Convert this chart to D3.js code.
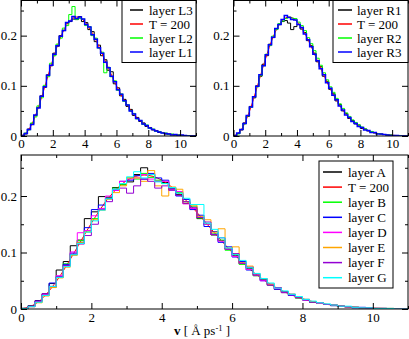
<!DOCTYPE html>
<html>
<head>
<meta charset="utf-8">
<script src="https://cdn.jsdelivr.net/npm/d3@7"></script>
<style>
  body { margin: 0; background: #fff; }
  text { font-family: "Liberation Serif", "Times New Roman", serif; fill: #000; }
</style>
</head>
<body>
<div id="chart"></div>
<script>
// histogram bins: width 0.2 Å/ps starting at 0, values in per mille (probability density x 1000)
const binWidth = 0.2;

// top left panel
const layerL3 = [1,4,14,24,41,57,80,97,122,140, 165,179,200,210,225,228,233,232,238,228, 226,212,208,188,181,160,152,131,128,104, 96,80,73,59,53,41,37,29,26,19, 17,12,11,7,7,4,4,3,2,2, 1,1,0,0,0];
const layerL2 = [1,6,12,26,38,60,76,101,118,145, 160,183,195,215,220,242,258,232,234,233, 220,218,200,195,175,167,126,137,118,110, 91,84,69,62,50,45,34,31,23,22, 15,14,9,9,6,6,3,4,2,2, 1,1,1,0,0];
const layerL1 = [1,5,13,23,42,56,79,98,121,141, 163,180,199,210,226,229,238,234,237,233, 222,217,202,193,176,165,147,136,119,108, 92,83,70,62,50,44,35,31,24,21, 16,13,10,8,6,5,4,2,3,1, 2,1,0,0,0];

// top right panel
const layerR1 = [1,5,12,26,39,59,76,100,119,143, 160,183,196,213,222,228,230,225,212,218, 222,213,206,190,180,165,148,138,119,109, 93,84,70,63,50,45,35,31,24,22, 15,14,10,9,6,5,4,3,2,2, 1,1,0,0,0];
const layerR2 = [1,4,13,24,40,57,78,98,120,140, 163,180,199,212,224,229,234,237,235,234, 227,220,210,196,184,170,155,141,126,112, 98,87,75,64,55,46,39,32,27,22, 18,14,11,9,7,5,4,3,2,2, 1,1,1,0,0];
const layerR3 = [1,6,13,25,41,58,78,99,122,140, 162,182,197,214,222,232,240,236,232,231, 222,216,203,192,178,163,150,134,122,106, 95,81,72,60,52,42,37,29,25,19, 17,12,11,7,7,4,4,3,2,1, 1,1,0,0,0];

// bottom panel
const layerA = [1,6,15,27,45,69,84,112,122,160, 172,199,198,215,220,225,238,250,238,226, 224,212,203,187,178,160,150,131,121,106, 95,80,72,59,51,43,35,30,24,20, 16,12,10,8,6,5,4,3,2,2, 1,1,0,0,0];
const layerB = [1,5,12,25,38,56,80,96,121,138, 160,178,196,214,220,232,230,240,233,228, 222,213,206,190,182,161,150,133,122,104, 97,79,73,59,52,42,37,29,26,19, 17,12,10,8,7,5,4,3,2,2, 1,1,1,0,0];
const layerC = [1,5,14,24,46,57,79,99,118,144, 176,184,196,210,226,228,236,230,240,232, 228,214,200,194,176,166,146,137,118,110, 92,84,69,62,50,44,35,31,24,21, 16,13,10,8,6,5,4,2,3,1, 1,1,0,0,0];
const layerD = [1,4,13,26,39,59,76,101,135,139, 165,178,200,210,226,230,232,238,230,226, 226,212,208,186,178,162,150,132,120,106, 93,81,70,60,50,43,36,29,25,20, 16,13,10,8,7,5,4,3,2,2, 1,1,1,0,0];
const layerE = [1,4,11,23,38,55,74,95,118,136, 158,175,194,206,218,232,232,226,245,218, 200,216,212,190,184,164,158,136,142,108, 110,82,76,62,54,44,38,30,26,21, 17,13,11,8,7,5,4,3,2,2, 1,1,1,0,0];
const layerF = [1,5,14,27,40,57,77,97,115,130, 150,176,190,212,214,205,218,230,226,214, 218,210,201,190,180,162,154,132,126,106, 98,81,74,60,53,42,38,29,26,20, 17,12,11,8,7,5,4,3,2,2, 1,1,0,0,0];
const layerG = [1,4,12,24,40,56,75,96,116,136, 156,175,195,212,222,234,243,232,238,225, 222,215,205,196,185,185,152,141,126,108, 96,86,73,63,54,46,37,32,26,22, 17,14,11,9,7,5,5,3,2,2, 1,1,1,0,0];

// T = 200 reference curve (per mille)
const tempV = [0,0.5,1,1.5,2,2.5,3,3.5,4,4.5,5,5.5,6,6.5,7,7.5,8,8.5,9,9.5,10,10.5,11];
const tempF = [0,12.9,48.5,98.6,151.9,197.5,227.2,237.2,228.1,204.1,171.0,134.8,100.3,70.7,47.2,30.0,18.1,10.4,5.7,3.0,1.5,0.7,0.3];

const xTicks = [0,2,4,6,8,10];
const xMinor = [1,3,5,7,9,11];
const yTicks = [0,0.1,0.2];
const yMinor = [0.05,0.15,0.25];

const W = 409, H = 339;
const svg = d3.select('#chart').append('svg').attr('width', W).attr('height', H);

const panels = [
  { id: 'tl', x: [21, 196], y: [136, 0.5], ymax: 0.27,
    series: [['layer L3', layerL3, '#000000', 1], ['T = 200', null, '#ff0000', 1],
             ['layer L2', layerL2, '#00ff00', 1], ['layer L1', layerL1, '#0000ff', 1.5]],
    legend: { box: [122, 0.5, 196, 62.5], row0: 10, dy: 14, lx: 130, lw: 13, tx: 149 } },
  { id: 'tr', x: [233.5, 408], y: [136, 0.5], ymax: 0.27,
    series: [['layer R1', layerR1, '#000000', 1], ['T = 200', null, '#ff0000', 1],
             ['layer R2', layerR2, '#00ff00', 1], ['layer R3', layerR3, '#0000ff', 1.5]],
    legend: { box: [333, 0.5, 408, 62.5], row0: 10, dy: 14, lx: 338, lw: 14, tx: 357 } },
  { id: 'bt', x: [21, 408], y: [309, 155], ymax: 0.2726,
    series: [['layer A', layerA, '#000000', 1], ['T = 200', null, '#ff0000', 1],
             ['layer B', layerB, '#00ff00', 1], ['layer C', layerC, '#0000ff', 1],
             ['layer D', layerD, '#ff00ff', 1], ['layer E', layerE, '#ffa500', 1],
             ['layer F', layerF, '#9400d3', 1], ['layer G', layerG, '#00ffff', 1]],
    legend: { box: [319, 161, 393, 288], row0: 172, dy: 15.1, lx: 323, lw: 19, tx: 348 } }
];

const yFmt = d => d === 0 ? '0' : d3.format('.1f')(d);

panels.forEach(p => {
  const x = d3.scaleLinear().domain([0, 11]).range(p.x);
  const y = d3.scaleLinear().domain([0, p.ymax]).range(p.y);
  const g = svg.append('g');

  g.append('clipPath').attr('id', 'clip-' + p.id)
    .append('rect')
    .attr('x', p.x[0]).attr('y', p.y[1])
    .attr('width', p.x[1] - p.x[0]).attr('height', p.y[0] - p.y[1]);

  const plot = g.append('g').attr('clip-path', `url(#clip-${p.id})`);

  const stepLine = d3.line()
    .x(d => x(d[0])).y(d => y(d[1] / 1000))
    .curve(d3.curveStepAfter);
  const smoothLine = d3.line()
    .x((d, i) => x(tempV[i])).y(d => y(d / 1000))
    .curve(d3.curveMonotoneX);

  p.series.forEach(([name, vals, color, sw]) => {
    if (vals) {
      const pts = vals.map((v, i) => [i * binWidth, v]);
      pts.push([vals.length * binWidth, vals[vals.length - 1]]);
      plot.append('path').attr('d', stepLine(pts))
        .attr('fill', 'none').attr('stroke', color).attr('stroke-width', sw);
    } else {
      plot.append('path').attr('d', smoothLine(tempF))
        .attr('fill', 'none').attr('stroke', color).attr('stroke-width', sw);
    }
  });

  // frame
  g.append('rect')
    .attr('x', p.x[0]).attr('y', p.y[1])
    .attr('width', p.x[1] - p.x[0]).attr('height', p.y[0] - p.y[1])
    .attr('fill', 'none').attr('stroke', '#000').attr('stroke-width', 1);

  const pad = p.id === 'bt' ? 4 : 3;
  const axes = [
    [d3.axisBottom(x).tickValues(xTicks).tickSize(-6).tickPadding(pad), `translate(0,${p.y[0]})`],
    [d3.axisBottom(x).tickValues(xMinor).tickSize(-3).tickFormat(''), `translate(0,${p.y[0]})`],
    [d3.axisTop(x).tickValues(xTicks).tickSize(-6).tickFormat(''), `translate(0,${p.y[1]})`],
    [d3.axisTop(x).tickValues(xMinor).tickSize(-3).tickFormat(''), `translate(0,${p.y[1]})`],
    [d3.axisLeft(y).tickValues(yTicks).tickSize(-6).tickPadding(4).tickFormat(yFmt), `translate(${p.x[0]},0)`],
    [d3.axisLeft(y).tickValues(yMinor).tickSize(-3).tickFormat(''), `translate(${p.x[0]},0)`],
    [d3.axisRight(y).tickValues(yTicks).tickSize(-6).tickFormat(''), `translate(${p.x[1]},0)`],
    [d3.axisRight(y).tickValues(yMinor).tickSize(-3).tickFormat(''), `translate(${p.x[1]},0)`]
  ];
  axes.forEach(([ax, tr]) => {
    const a = g.append('g').attr('transform', tr).call(ax);
    a.select('.domain').remove();
    a.attr('font-family', null).attr('font-size', 13);
    a.selectAll('.tick line').attr('stroke', '#000');
  });

  // legend
  const L = p.legend;
  const lg = g.append('g');
  lg.append('rect')
    .attr('x', L.box[0]).attr('y', L.box[1])
    .attr('width', L.box[2] - L.box[0]).attr('height', L.box[3] - L.box[1])
    .attr('fill', '#fff').attr('stroke', '#000').attr('stroke-width', 1);
  p.series.forEach(([name, vals, color], i) => {
    const ry = L.row0 + i * L.dy;
    lg.append('line')
      .attr('x1', L.lx).attr('x2', L.lx + L.lw)
      .attr('y1', ry).attr('y2', ry)
      .attr('stroke', color).attr('stroke-width', 1.5);
    lg.append('text')
      .attr('x', L.tx).attr('y', ry + 4.5)
      .attr('font-size', 13)
      .text(name);
  });
});

// x axis title of the bottom panel
const title = svg.append('text')
  .attr('x', 202).attr('y', 335)
  .attr('text-anchor', 'middle')
  .attr('font-size', 13);
title.append('tspan').attr('font-weight', 'bold').text('v');
title.append('tspan').text(' [ Å ps');
title.append('tspan').attr('dy', -4.5).attr('font-size', 8.5).text('-1');
title.append('tspan').attr('dy', 4.5).text(' ]');
</script>
</body>
</html>
